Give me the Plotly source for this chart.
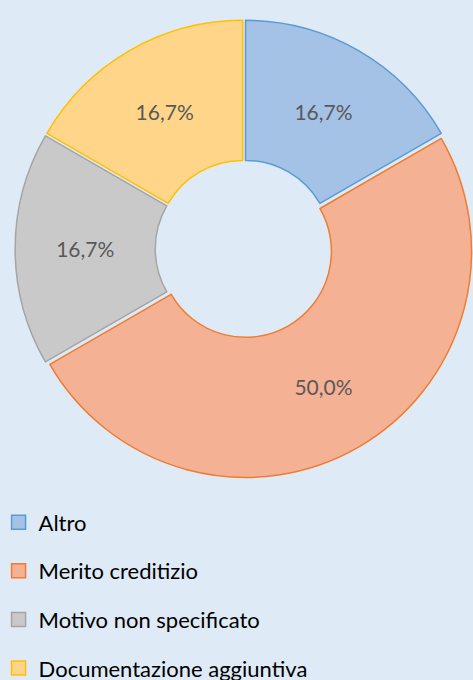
import plotly.graph_objects as go

categories = ["Altro", "Merito creditizio", "Motivo non specificato", "Documentazione aggiuntiva"]
values = [1, 3, 1, 1]
fill_colors = ["#A4C2E6", "#F5B193", "#C9C9C9", "#FFD689"]
line_colors = ["#5B9BD5", "#ED7D31", "#A5A5A5", "#FFC000"]

BG = "#DEEAF6"
FONT = "Lato"

fig = go.Figure()

fig.add_trace(go.Pie(
    labels=categories,
    values=values,
    hole=0.38,
    sort=False,
    direction="clockwise",
    rotation=0,
    pull=0.013,
    marker=dict(colors=fill_colors, line=dict(color=line_colors, width=1.5)),
    texttemplate="%{percent:.1%}",
    textposition="inside",
    insidetextorientation="horizontal",
    textfont=dict(family=FONT, size=21, color="#595959"),
    showlegend=False,
    domain=dict(x=[0.032, 1.0], y=[0.297, 0.971]),
    hoverinfo="label+percent",
))

for i, name in enumerate(categories):
    fig.add_trace(go.Scatter(
        x=[None], y=[None], mode="markers", name=name,
        legendgroup=name,
        marker=dict(symbol="square", size=14, color=fill_colors[i],
                    line=dict(color=line_colors[i], width=1.5)),
        hoverinfo="skip",
    ))

fig.update_layout(
    width=473, height=680,
    margin=dict(l=0, r=0, t=0, b=0, autoexpand=False),
    paper_bgcolor=BG, plot_bgcolor=BG,
    separators=",.",
    xaxis=dict(visible=False), yaxis=dict(visible=False),
    legend=dict(
        x=-0.003, xanchor="left", y=0.2626, yanchor="top",
        font=dict(family=FONT, size=22, color="#000000"),
        tracegroupgap=17, itemwidth=30,
        bgcolor="rgba(0,0,0,0)",
    ),
    font=dict(family=FONT),
)

fig.write_html(
    "out.html",
    config={"displayModeBar": False},
    post_script="document.body.style.margin='0';document.body.style.overflow='hidden';",
)
